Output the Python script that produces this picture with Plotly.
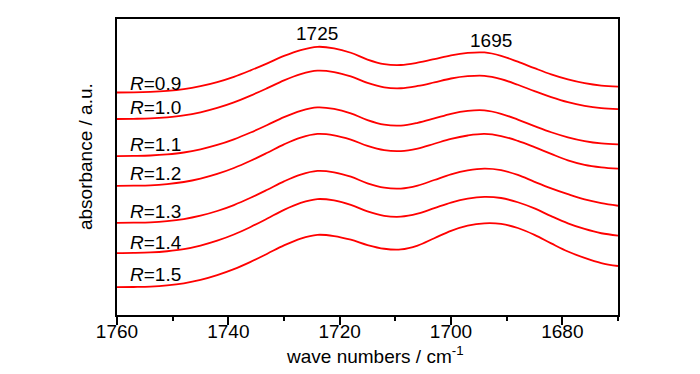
import plotly.graph_objects as go

# wave numbers (cm^-1), every 3 cm^-1
wavenumbers = [1760, 1757, 1754, 1751, 1748, 1745, 1742, 1739, 1736, 1733,
               1730, 1727, 1724, 1721, 1718, 1715, 1712, 1709, 1706, 1703,
               1700, 1697, 1694, 1691, 1688, 1685, 1682, 1679, 1676, 1673, 1670]

r_09 = [2.240, 2.241, 2.246, 2.256, 2.274, 2.304, 2.345, 2.398, 2.463, 2.534,
        2.608, 2.667, 2.700, 2.685, 2.640, 2.572, 2.526, 2.517, 2.540, 2.576,
        2.615, 2.639, 2.643, 2.609, 2.550, 2.485, 2.423, 2.372, 2.334, 2.310, 2.300]
r_10 = [1.973, 1.975, 1.979, 1.990, 2.009, 2.041, 2.085, 2.141, 2.209, 2.284,
        2.362, 2.425, 2.460, 2.446, 2.402, 2.336, 2.292, 2.283, 2.306, 2.342,
        2.381, 2.404, 2.408, 2.375, 2.318, 2.254, 2.194, 2.143, 2.106, 2.083, 2.073]
r_11 = [1.600, 1.602, 1.606, 1.617, 1.636, 1.668, 1.712, 1.769, 1.837, 1.913,
        1.992, 2.055, 2.090, 2.075, 2.030, 1.962, 1.916, 1.907, 1.935, 1.979,
        2.026, 2.055, 2.060, 2.026, 1.967, 1.902, 1.840, 1.789, 1.751, 1.727, 1.717]
r_12 = [1.300, 1.302, 1.306, 1.318, 1.339, 1.373, 1.420, 1.480, 1.553, 1.634,
        1.718, 1.786, 1.823, 1.809, 1.766, 1.702, 1.659, 1.650, 1.676, 1.724,
        1.773, 1.807, 1.823, 1.802, 1.753, 1.690, 1.622, 1.557, 1.512, 1.487, 1.473]
r_13 = [0.927, 0.929, 0.933, 0.945, 0.966, 1.000, 1.047, 1.107, 1.180, 1.261,
        1.345, 1.413, 1.450, 1.436, 1.392, 1.326, 1.282, 1.273, 1.303, 1.359,
        1.415, 1.455, 1.473, 1.458, 1.410, 1.341, 1.275, 1.216, 1.163, 1.126, 1.100]
r_14 = [0.623, 0.625, 0.630, 0.642, 0.663, 0.699, 0.748, 0.810, 0.886, 0.971,
        1.058, 1.128, 1.167, 1.153, 1.109, 1.043, 0.999, 0.990, 1.020, 1.076,
        1.132, 1.172, 1.190, 1.178, 1.135, 1.073, 0.995, 0.923, 0.866, 0.823, 0.800]
r_15 = [0.280, 0.282, 0.286, 0.298, 0.319, 0.353, 0.401, 0.461, 0.535, 0.617,
        0.701, 0.770, 0.807, 0.795, 0.758, 0.704, 0.667, 0.660, 0.699, 0.773,
        0.847, 0.899, 0.923, 0.917, 0.876, 0.807, 0.721, 0.639, 0.575, 0.523, 0.493]

series = [r_09, r_10, r_11, r_12, r_13, r_14, r_15]
series_labels = ["0.9", "1.0", "1.1", "1.2", "1.3", "1.4", "1.5"]
label_y = [2.33, 2.09, 1.72, 1.42, 1.04, 0.725, 0.405]
label_x = 1758.1

peak_labels = ["1725", "1695"]
peak_x = [1724.1, 1692.9]
peak_y = [2.83, 2.76]

x_ticks = [1760, 1740, 1720, 1700, 1680]

FONT = "Arial, Liberation Sans, sans-serif"

fig = go.Figure()
for vals in series:
    fig.add_trace(go.Scatter(
        x=wavenumbers, y=vals, mode="lines",
        line=dict(color="#ff0000", width=1.8, shape="spline", smoothing=1.0),
        showlegend=False, hoverinfo="skip"))

for lab, ly in zip(series_labels, label_y):
    fig.add_annotation(
        x=label_x, y=ly, xref="x", yref="y", text="<i>R</i>=" + lab,
        showarrow=False, xanchor="left", yanchor="middle",
        font=dict(family=FONT, size=19, color="black"))
for lab, px, py in zip(peak_labels, peak_x, peak_y):
    fig.add_annotation(
        x=px, y=py, xref="x", yref="y", text=lab, showarrow=False,
        xanchor="center", yanchor="middle",
        font=dict(family=FONT, size=19, color="black"))

# axis titles (placed relative to the plot area)
fig.add_annotation(
    x=(375 - 117) / 501, y=-(355 - 315) / 298, xref="paper", yref="paper",
    text="wave numbers / cm<sup>-1</sup>", showarrow=False,
    xanchor="center", yanchor="middle",
    font=dict(family=FONT, size=19, color="black"))
fig.add_annotation(
    x=-(117 - 85) / 501, y=(315 - 156) / 298, xref="paper", yref="paper",
    text="absorbance / a.u.", showarrow=False, textangle=-90,
    xanchor="center", yanchor="middle",
    font=dict(family=FONT, size=19, color="black"))

fig.update_xaxes(
    range=[1760, 1670], tickvals=x_ticks, ticktext=[str(t) for t in x_ticks],
    ticks="outside", ticklen=8, tickwidth=1.5, tickcolor="black",
    ticklabelstandoff=-10,
    minor=dict(dtick=10, tick0=1760, ticks="outside", ticklen=4, tickwidth=1.5, tickcolor="black"),
    showline=True, linecolor="black", linewidth=2, mirror=True,
    showgrid=False, zeroline=False,
    tickfont=dict(family=FONT, size=19, color="black"))
fig.update_yaxes(
    range=[0, 2.98], showticklabels=False, ticks="",
    showline=True, linecolor="black", linewidth=2, mirror=True,
    showgrid=False, zeroline=False)

# the page body adds an 8px margin, so the figure is 16px smaller than the window
fig.update_layout(
    width=684, height=358,
    margin=dict(l=109, r=74, t=9, b=51),
    paper_bgcolor="white", plot_bgcolor="white",
    font=dict(family=FONT, size=19, color="black"))

fig.write_html("out.html")
